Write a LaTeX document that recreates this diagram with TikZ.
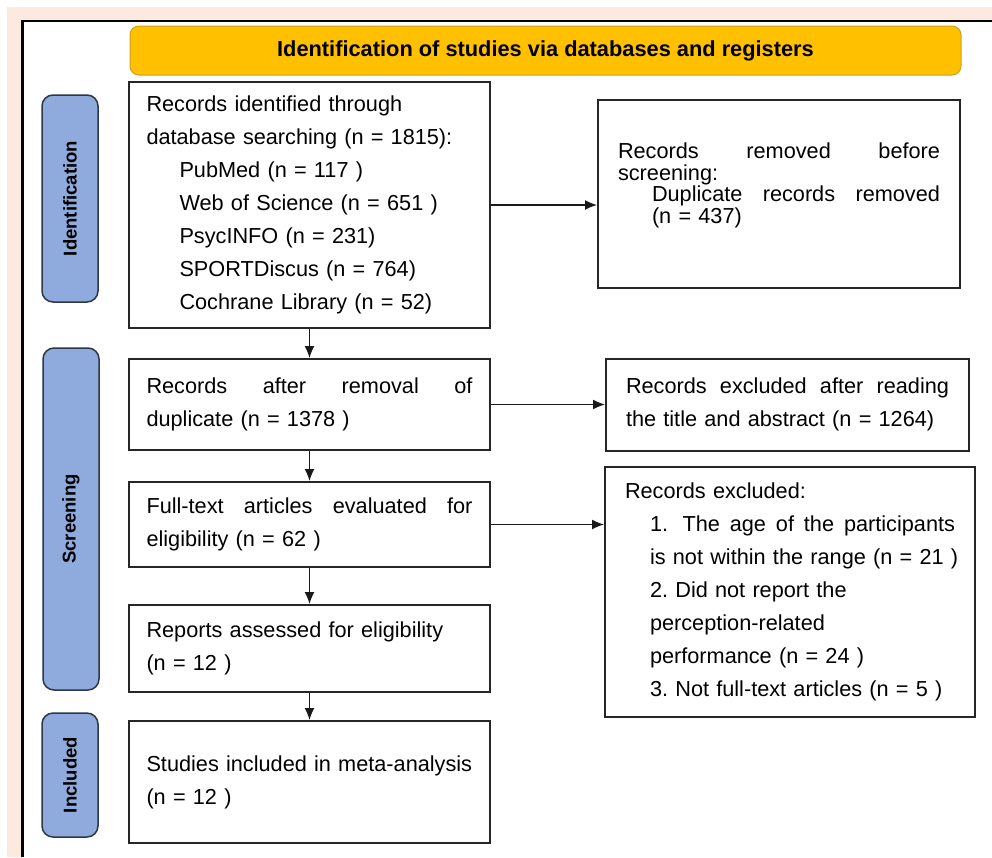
\documentclass[tikz,border=0pt]{standalone}
\usepackage{fontspec}
\setmainfont{Liberation Sans}
\usetikzlibrary{positioning,arrows.meta}
\definecolor{pagepeach}{RGB}{251,234,221}
\definecolor{headgold}{RGB}{255,192,0}
\definecolor{headrim}{RGB}{205,160,30}
\definecolor{stageblue}{RGB}{143,170,220}
\definecolor{stagerim}{RGB}{45,55,70}
\frenchspacing
\newcommand{\boxfont}{\fontsize{21.7}{33}\selectfont}
\newcommand{\ind}{\hspace*{33pt}}
\newcommand{\subind}{\hspace*{25pt}}
\tikzset{
    header/.style={rectangle, draw=headrim, fill=headgold, rounded corners=9pt, minimum width=831pt, minimum height=49pt, font=\bfseries\fontsize{21.8}{24}\selectfont, line width=1pt},
    stage/.style={rectangle, draw=stagerim, fill=stageblue, rounded corners=11pt, minimum height=56pt, inner sep=0pt, rotate=90, font=\bfseries\fontsize{18.5}{20}\selectfont, line width=1.5pt},
    record/.style={rectangle, draw=black!85, line width=2pt, text width=326pt, inner xsep=17.5pt, inner ysep=0pt, align=left, font=\boxfont},
    sidebox/.style={record, text width=330pt, inner xsep=20pt},
    line/.style={draw, -{Latex[length=12pt,width=10pt]}, line width=1.4pt, black!90}
}
\begin{document}
\begin{tikzpicture}[x=1pt, y=-1pt]
    % page and frame
    \useasboundingbox (0,0) rectangle (992,857);
    \fill [white] (0,0) rectangle (992,857);
    \fill [pagepeach] (7,7) rectangle (992,857);
    \fill [white] (22,21) rectangle (992,857);
    \draw [line width=2.5pt] (992,21) -- (22.5,21) -- (22.5,857);

    \node [header] (head) at (545.5,50.5) {Identification of studies via databases and registers};

    % stages
    \node [stage, minimum width=207pt] (idstage) at (70,198.5) {Identification};
    \node [stage, minimum width=342pt] (scstage) at (71,519) {Screening};
    \node [stage, minimum width=124pt] (instage) at (70,775) {Included};

    % main column
    \node [record, minimum height=246pt] (found) at (309.5,205) {Records identified through\\database searching (n = 1815):\\\ind PubMed (n = 117 )\\\ind Web of Science (n = 651 )\\\ind PsycINFO (n = 231)\\\ind SPORTDiscus (n = 764)\\\ind Cochrane Library (n = 52)};
    \node [record, minimum height=91pt, below=29pt of found] (unique) {Records\hfill after\hfill removal\hfill of\\duplicate (n = 1378 )};
    \node [record, minimum height=85pt, below=30pt of unique] (fulltext) {Full-text\hfill articles\hfill evaluated\hfill for\\eligibility (n = 62 )};
    \node [record, minimum height=87pt, below=36pt of fulltext] (assessed) {Reports assessed for eligibility\\(n = 12 )};
    \node [record, minimum height=122pt, below=27pt of assessed] (included) {Studies included in meta-analysis\\(n = 12 )};

    % side column
    \node [sidebox, text width=322pt, minimum height=188pt, font=\fontsize{21.7}{21.5}\selectfont, right=106pt of found, yshift=11pt] (dupes) {Records\hfill removed\hfill before\\screening:\\\hspace*{34pt}Duplicate\hfill records\hfill removed\\\hspace*{34pt}(n = 437)\\\mbox{}};
    \node [sidebox, text width=323pt, minimum height=92pt, right=114pt of unique] (reading) {Records\hfill excluded\hfill after\hfill reading\\the title and abstract (n = 1264)};
    \node [sidebox, minimum height=250pt, below right=14pt and -1pt of reading.south west] (excluded) {Records excluded:\\\subind 1.\ \ The\hfill age\hfill of\hfill the\hfill participants\\\subind\mbox{is not within the range (n = 21 )}\\\subind\mbox{2. Did not report the}\\\subind perception-related\\\subind\mbox{performance (n = 24 )}\\\subind\mbox{3. Not full-text articles (n = 5 )}};

    \path [line] (found) -- (unique);
    \path [line] (unique) -- (fulltext);
    \path [line] (fulltext) -- (assessed);
    \path [line] (assessed) -- (included);
    \path [line] (found.east) -- (found.east -| dupes.west);
    \path [line] (unique.east) -- (unique.east -| reading.west);
    \path [line] (fulltext.east) -- (fulltext.east -| excluded.west);
\end{tikzpicture}
\end{document}
